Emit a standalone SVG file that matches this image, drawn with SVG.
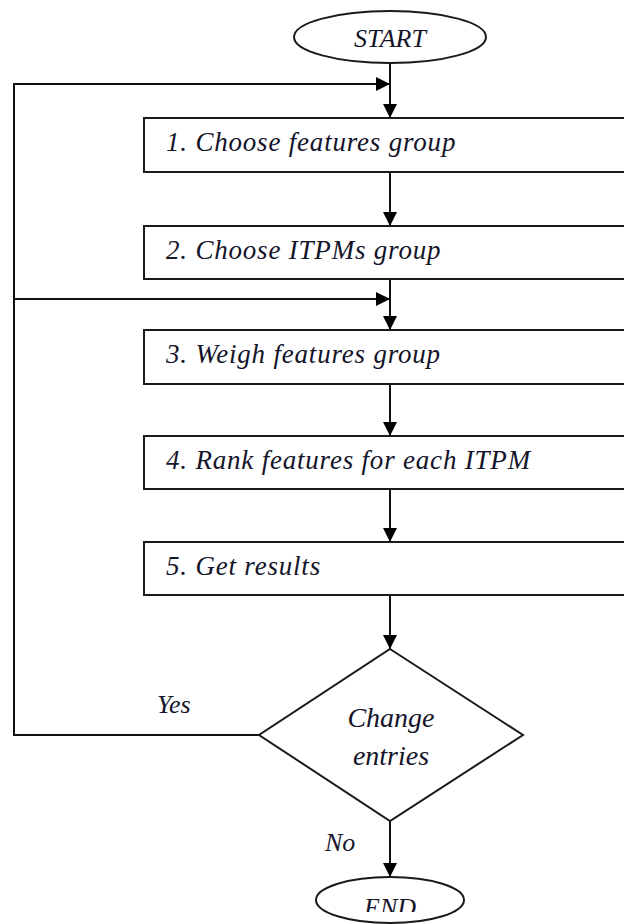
<svg xmlns="http://www.w3.org/2000/svg" width="624" height="924" viewBox="0 0 624 924">
  <style>
    .shape { fill: #ffffff; stroke: #1a1a1a; stroke-width: 2; }
    .line { fill: none; stroke: #111111; stroke-width: 2; }
    .label { font-family: "Liberation Serif", "Times New Roman", serif; font-style: italic; font-size: 26px; fill: #14142a; }
    .step { font-size: 27px; letter-spacing: 0.8px; }
    .cond { font-size: 28px; }
    .mid { text-anchor: middle; }
  </style>
  <defs>
    <marker id="arrow" viewBox="0 0 14 14" refX="14" refY="7" markerWidth="14" markerHeight="14" markerUnits="userSpaceOnUse" orient="auto">
      <path d="M0,0 L14,7 L0,14 Z" fill="#000000"/>
    </marker>
    <clipPath id="endClip">
      <rect x="300" y="870" width="180" height="42"/>
    </clipPath>
  </defs>

  <!-- connectors -->
  <g id="connectors">
    <line class="line" x1="390" y1="63" x2="390" y2="118" marker-end="url(#arrow)"/>
    <line class="line" x1="390" y1="172" x2="390" y2="226" marker-end="url(#arrow)"/>
    <line class="line" x1="390" y1="279" x2="390" y2="330" marker-end="url(#arrow)"/>
    <line class="line" x1="390" y1="384" x2="390" y2="436" marker-end="url(#arrow)"/>
    <line class="line" x1="390" y1="489" x2="390" y2="542" marker-end="url(#arrow)"/>
    <line class="line" x1="390" y1="595" x2="390" y2="649" marker-end="url(#arrow)"/>
    <line class="line" x1="390" y1="821" x2="390" y2="877" marker-end="url(#arrow)"/>
    <!-- "Yes" loop back to the left rail and up -->
    <polyline class="line" points="259,735 14,735 14,84 390,84" marker-end="url(#arrow)"/>
    <line class="line" x1="14" y1="299" x2="390" y2="299" marker-end="url(#arrow)"/>
    <text class="label" x="157" y="713">Yes</text>
    <text class="label" x="325" y="851">No</text>
  </g>

  <g id="start">
    <ellipse class="shape" cx="390" cy="37" rx="96" ry="26"/>
    <text class="label mid" x="390" y="47">START</text>
  </g>

  <g id="step1">
    <rect class="shape" x="144" y="118" width="500" height="54"/>
    <text class="label step" x="166" y="151">1. Choose features group</text>
  </g>

  <g id="step2">
    <rect class="shape" x="144" y="226" width="500" height="53"/>
    <text class="label step" x="166" y="259">2. Choose ITPMs group</text>
  </g>

  <g id="step3">
    <rect class="shape" x="144" y="330" width="500" height="54"/>
    <text class="label step" x="166" y="363">3. Weigh features group</text>
  </g>

  <g id="step4">
    <rect class="shape" x="144" y="436" width="500" height="53"/>
    <text class="label step" x="166" y="469">4. Rank features for each ITPM</text>
  </g>

  <g id="step5">
    <rect class="shape" x="144" y="542" width="500" height="53"/>
    <text class="label step" x="166" y="575">5. Get results</text>
  </g>

  <g id="decision">
    <polygon class="shape" points="390,649 523,735 390,821 259,735"/>
    <text class="label cond mid" x="391" y="727">Change</text>
    <text class="label cond mid" x="391" y="765">entries</text>
  </g>

  <g id="end">
    <ellipse class="shape" cx="390" cy="900" rx="74" ry="23"/>
    <text class="label mid" x="390" y="916" clip-path="url(#endClip)">END</text>
  </g>
</svg>
